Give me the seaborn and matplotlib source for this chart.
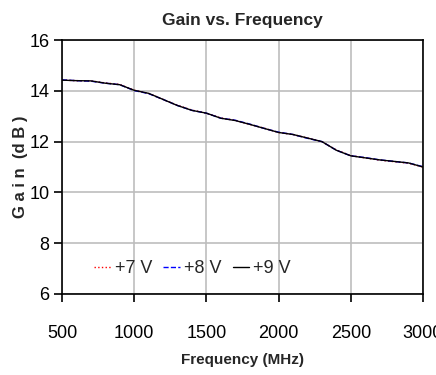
import matplotlib
matplotlib.use("Agg")
import matplotlib.pyplot as plt
import seaborn as sns
import pandas as pd

freq = [500, 600, 700, 800, 900, 1000, 1100, 1200, 1300, 1400, 1500, 1600, 1700,
        1800, 1900, 2000, 2100, 2200, 2300, 2400, 2500, 2600, 2700, 2800, 2900, 3000]
gain_7v = [14.42, 14.40, 14.39, 14.31, 14.25, 14.02, 13.90, 13.66, 13.43, 13.24, 13.12, 12.93, 12.84,
           12.68, 12.53, 12.36, 12.28, 12.14, 12.00, 11.67, 11.45, 11.36, 11.27, 11.21, 11.15, 11.00]
gain_8v = [14.43, 14.40, 14.38, 14.30, 14.24, 14.01, 13.89, 13.66, 13.42, 13.23, 13.12, 12.92, 12.84,
           12.69, 12.52, 12.37, 12.28, 12.13, 12.00, 11.66, 11.44, 11.37, 11.28, 11.22, 11.16, 11.01]
gain_9v = [14.42, 14.40, 14.39, 14.30, 14.24, 14.02, 13.90, 13.66, 13.42, 13.23, 13.12, 12.92, 12.83,
           12.68, 12.52, 12.36, 12.28, 12.14, 12.00, 11.66, 11.44, 11.36, 11.28, 11.22, 11.16, 11.00]
labels = ["+7 V", "+8 V", "+9 V"]
x_ticks = [500, 1000, 1500, 2000, 2500, 3000]
y_ticks = [6, 8, 10, 12, 14, 16]

sns.set_style("white")
plt.rcParams["font.family"] = ["Liberation Sans", "DejaVu Sans"]

fig = plt.figure(figsize=(4.36, 3.75), dpi=100)
ax = fig.add_axes([0.1422, 0.216, 0.8280, 0.6773])

series = [(gain_7v, "red", ":"), (gain_8v, "blue", "--"), (gain_9v, "black", "-")]
for (g, c, ls), lab in zip(series, labels):
    df = pd.DataFrame({"Frequency": freq, "Gain": g})
    sns.lineplot(data=df, x="Frequency", y="Gain", ax=ax, color=c, linestyle=ls,
                 linewidth=1.0, label=lab)

ax.set_xlim(500, 3000)
ax.set_ylim(6, 16)
ax.set_xticks(x_ticks)
ax.set_yticks(y_ticks)
ax.grid(True, color="#bdbdbd", linewidth=1.2)
ax.set_axisbelow(True)
for s in ax.spines.values():
    s.set_color("black")
    s.set_linewidth(1.2)
    s.set_visible(True)
ax.tick_params(axis="both", direction="out", length=6, width=1.2, colors="black",
               labelsize=13, left=True, bottom=True)
ax.tick_params(axis="x", pad=16)
ax.tick_params(axis="y", pad=3)

ax.set_title("Gain vs. Frequency", fontsize=12.5, fontweight="bold", pad=11)
ax.set_xlabel("Frequency (MHz)", fontsize=11, fontweight="bold", labelpad=8)
ax.set_ylabel("G a i n  (d B )", fontsize=12, fontweight="bold", labelpad=1)

leg = ax.legend(loc="center left", bbox_to_anchor=(0.07, 0.10), ncol=3, frameon=False,
                fontsize=13, handlelength=0.9, handletextpad=0.25, columnspacing=0.6,
                borderaxespad=0)

fig.savefig("out.png", dpi=100)
